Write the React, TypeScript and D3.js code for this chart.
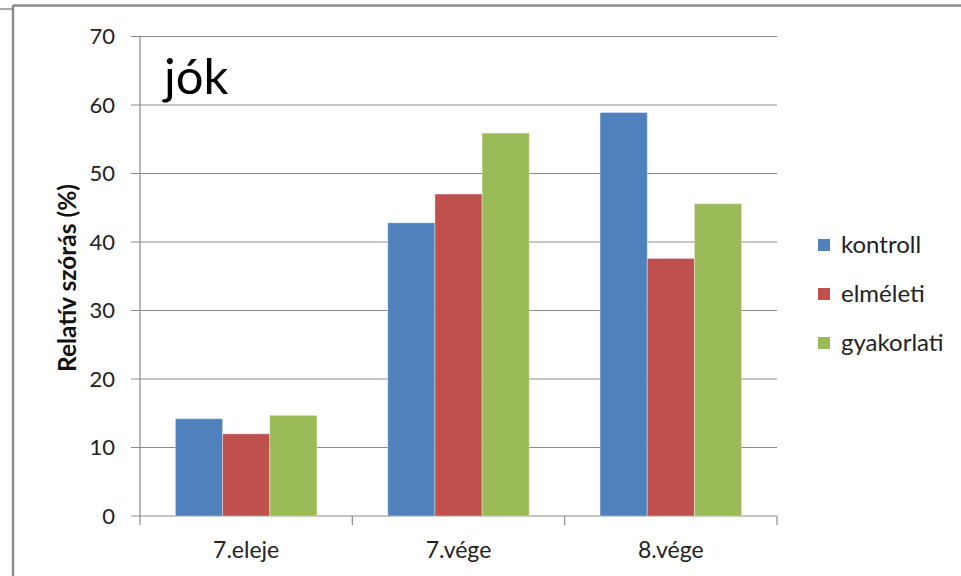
import React from "react";
import * as d3 from "d3";

const categories = ["7.eleje", "7.vége", "8.vége"];
const seriesNames = ["kontroll", "elméleti", "gyakorlati"];
const kontroll = [14.2, 42.8, 58.9];
const elmeleti = [12.0, 47.0, 37.6];
const gyakorlati = [14.7, 55.9, 45.6];
const yTicks = [0, 10, 20, 30, 40, 50, 60, 70];
const colors = ["#4F81BD", "#C0504D", "#9BBB59"];

const W = 961;
const H = 576;
const plot = { left: 140, right: 777, top: 36.5, bottom: 516 };
const font = "Lato, 'Open Sans', sans-serif";

export default function App() {
  const series = [kontroll, elmeleti, gyakorlati];
  const y = d3.scaleLinear().domain([0, 70]).range([plot.bottom, plot.top]);
  const x0 = d3
    .scaleBand<string>()
    .domain(categories)
    .range([plot.left, plot.right])
    .paddingInner(0)
    .paddingOuter(0);
  const bw = x0.bandwidth();
  // gap of 150% of one bar, split on both sides of the group
  const side = (bw / 4.5) * 0.75;
  const x1 = d3.scaleBand<string>().domain(seriesNames).range([side, bw - side]);

  return (
    <svg
      width={W}
      height={H}
      style={{ position: "absolute", left: 0, top: 0, background: "#fff" }}
      fontFamily={font}
    >
      <rect x={0} y={0} width={W} height={H} fill="#fff" />
      {/* frame */}
      <line x1={0} y1={9} x2={13} y2={9} stroke="#8c8c8c" strokeWidth={1.5} />
      <line x1={13} y1={5.5} x2={W} y2={5.5} stroke="#8c8c8c" strokeWidth={2.5} />
      <line x1={13} y1={5} x2={13} y2={H} stroke="#8c8c8c" strokeWidth={2.5} />

      {/* gridlines and y ticks */}
      {yTicks.map((t) => (
        <g key={t}>
          <line
            x1={plot.left - 9}
            x2={plot.right}
            y1={y(t)}
            y2={y(t)}
            stroke="#8a8a8a"
            strokeWidth={1.2}
          />
          <text
            x={115}
            y={y(t)}
            dy="0.36em"
            textAnchor="end"
            fontSize={22}
            fill="#222"
          >
            {t}
          </text>
        </g>
      ))}
      <line
        x1={plot.left}
        x2={plot.left}
        y1={plot.top}
        y2={plot.bottom + 9}
        stroke="#8a8a8a"
        strokeWidth={1.2}
      />

      {/* category ticks */}
      {categories.map((c) => (
        <line
          key={c}
          x1={(x0(c) as number) + bw}
          x2={(x0(c) as number) + bw}
          y1={plot.bottom}
          y2={plot.bottom + 9}
          stroke="#8a8a8a"
          strokeWidth={1.2}
        />
      ))}

      {/* bars */}
      {categories.map((c, ci) =>
        seriesNames.map((s, si) => {
          const v = series[si][ci];
          const bx = (x0(c) as number) + (x1(s) as number);
          return (
            <rect
              key={c + s}
              x={bx}
              y={y(v)}
              width={x1.bandwidth()}
              height={plot.bottom - y(v)}
              fill={colors[si]}
              stroke="#ffffff"
              strokeOpacity={0.35}
              strokeWidth={1}
            />
          );
        })
      )}

      {/* category labels */}
      {categories.map((c) => (
        <text
          key={c}
          x={(x0(c) as number) + bw / 2}
          y={558}
          textAnchor="middle"
          fontSize={23}
          fill="#222"
        >
          {c}
        </text>
      ))}

      {/* y axis title */}
      <text
        transform={`translate(76, 278) rotate(-90)`}
        textAnchor="middle"
        fontSize={24.5}
        fontWeight="bold"
        fill="#111"
      >
        Relatív szórás (%)
      </text>

      {/* chart title */}
      <text x={164} y={94} fontSize={49} fill="#000">
        jók
      </text>

      {/* legend */}
      {seriesNames.map((s, i) => {
        const cy = 245 + i * 49;
        return (
          <g key={s}>
            <rect x={818} y={cy - 6} width={12} height={12} fill={colors[i]} />
            <text x={841} y={cy} dy="0.35em" fontSize={24} fill="#222">
              {s}
            </text>
          </g>
        );
      })}
    </svg>
  );
}
